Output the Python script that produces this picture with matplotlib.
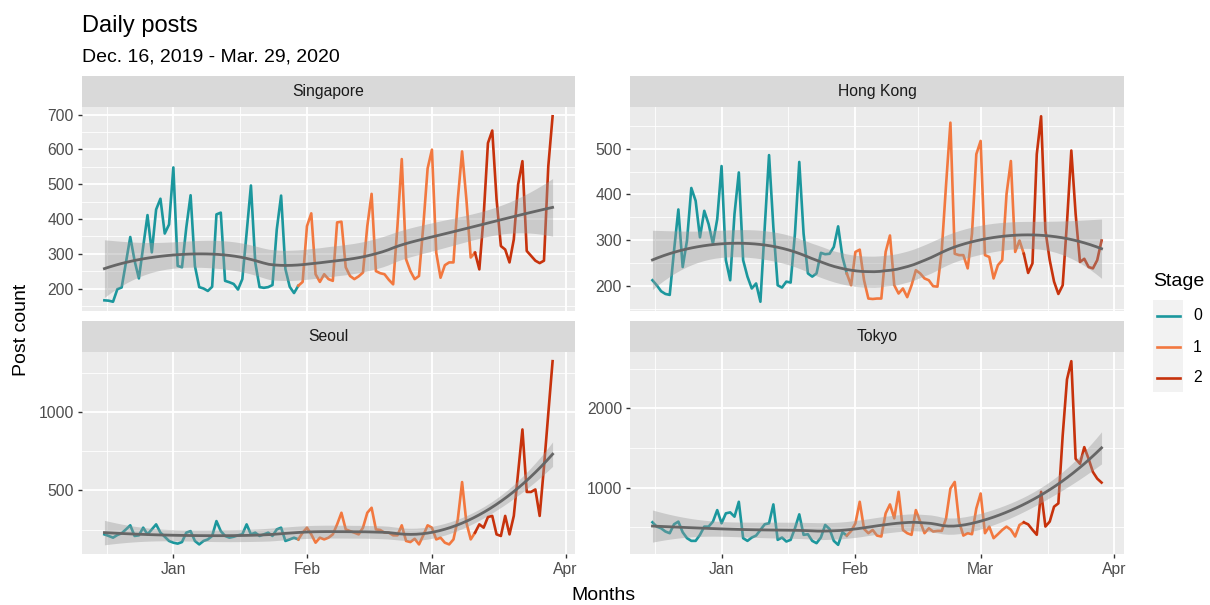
import numpy as np
import pandas as pd
import matplotlib
matplotlib.use("Agg")
import matplotlib.pyplot as plt
import matplotlib.dates as mdates
from matplotlib.patches import Rectangle

plt.rcParams["font.family"] = ["Liberation Sans", "DejaVu Sans"]

# ----------------------------
# Data (daily post counts)
# ----------------------------
dates = pd.date_range("2019-12-16", "2020-03-29", freq="D")
stage_starts = ["2020-01-31", "2020-03-12"]   # first day of stage 1, stage 2
stage_labels = ["0", "1", "2"]
stage_colors = ["#1B979D", "#F2783F", "#C7320C"]

singapore = [166, 165, 162, 198, 203, 275, 348, 280, 229, 320,
             411, 304, 427, 458, 358, 384, 548, 265, 261, 375,
             468, 265, 204, 200, 193, 205, 413, 418, 222, 218,
             213, 197, 227, 360, 496, 275, 204, 202, 204, 210,
             370, 467, 256, 205, 187, 208, 219, 379, 416, 241,
             219, 241, 227, 222, 390, 392, 261, 236, 227, 235,
             246, 379, 472, 250, 244, 241, 225, 212, 379, 572,
             284, 250, 227, 236, 380, 545, 599, 303, 231, 267,
             275, 275, 456, 594, 456, 289, 303, 255, 408, 618,
             654, 456, 322, 312, 275, 341, 499, 566, 308, 294,
             280, 273, 280, 551, 695]

hong_kong = [212, 201, 188, 182, 180, 277, 367, 241, 299, 414,
             386, 306, 364, 335, 292, 346, 462, 256, 212, 357,
             448, 256, 220, 194, 205, 165, 328, 486, 328, 201,
             196, 209, 207, 314, 471, 314, 227, 220, 227, 272,
             269, 270, 285, 330, 263, 227, 201, 274, 279, 212,
             172, 171, 172, 172, 274, 310, 201, 183, 194, 175,
             201, 234, 227, 216, 212, 199, 198, 278, 422, 557,
             270, 267, 267, 238, 314, 488, 517, 267, 263, 216,
             245, 256, 401, 473, 274, 299, 270, 228, 249, 488,
             571, 321, 256, 209, 182, 201, 339, 496, 357, 252,
             259, 241, 238, 256, 299]

seoul = [219, 209, 198, 215, 226, 251, 277, 209, 213, 262,
         219, 251, 283, 230, 204, 177, 166, 160, 170, 230,
         240, 177, 155, 177, 187, 209, 304, 240, 209, 198,
         204, 213, 219, 283, 219, 230, 209, 219, 230, 209,
         251, 262, 177, 187, 198, 187, 230, 262, 219, 166,
         198, 187, 198, 219, 283, 357, 251, 240, 230, 219,
         262, 357, 389, 251, 247, 230, 230, 213, 213, 277,
         177, 170, 191, 155, 213, 277, 262, 187, 198, 166,
         155, 187, 315, 553, 294, 187, 230, 283, 262, 330,
         337, 219, 209, 337, 219, 337, 613, 889, 490, 490,
         506, 337, 650, 990, 1325]

tokyo = [561, 506, 485, 444, 423, 536, 569, 435, 360, 326,
         326, 402, 506, 506, 569, 715, 548, 674, 686, 632,
         820, 360, 326, 368, 393, 464, 536, 548, 787, 339,
         368, 318, 339, 485, 661, 402, 410, 326, 297, 368,
         527, 477, 326, 276, 435, 393, 450, 548, 820, 477,
         423, 464, 393, 381, 674, 787, 611, 946, 464, 423,
         402, 715, 569, 423, 485, 444, 452, 452, 611, 987,
         1071, 569, 393, 423, 410, 736, 925, 423, 506, 360,
         410, 464, 506, 466, 381, 527, 560, 535, 466, 403,
         946, 507, 570, 758, 800, 1657, 2368, 2598, 1364, 1301,
         1511, 1364, 1197, 1113, 1063]

cities = ["Singapore", "Hong Kong", "Seoul", "Tokyo"]
series = [singapore, hong_kong, seoul, tokyo]
y_steps = [100, 100, 500, 1000]

# ----------------------------
# Helpers
# ----------------------------
W, H = 1210, 605
fig = plt.figure(figsize=(W / 100, H / 100), dpi=100)


def px_axes(x0, y0, x1, y1):
    return fig.add_axes([x0 / W, 1 - y1 / H, (x1 - x0) / W, (y1 - y0) / H])


def loess(x, y, span=0.75, n_out=80):
    """Local quadratic fit (tricube weights) + 95% band, like geom_smooth."""
    n = len(x)
    q = int(np.floor(n * span))

    def row(x0):
        d = np.abs(x - x0)
        h = np.sort(d)[q - 1]
        w = np.clip(1 - (d / h) ** 3, 0, None) ** 3
        X = np.vstack([np.ones(n), x - x0, (x - x0) ** 2]).T
        WX = X * w[:, None]
        return np.linalg.solve(X.T @ WX, WX.T)[0]

    L = np.array([row(v) for v in x])
    res = y - L @ y
    M = (np.eye(n) - L).T @ (np.eye(n) - L)
    d1 = np.trace(M)
    s = np.sqrt(res @ res / d1)
    xs = np.linspace(x.min(), x.max(), n_out)
    Lo = np.array([row(v) for v in xs])
    fit = Lo @ y
    se = s * np.sqrt((Lo ** 2).sum(axis=1))
    return xs, fit, fit - 1.98 * se, fit + 1.98 * se


xnum = mdates.date2num(dates)
days = np.arange(len(dates), dtype=float)
stage = np.zeros(len(dates), dtype=int)
for k, s in enumerate(stage_starts):
    stage[dates >= pd.Timestamp(s)] = k + 1

month_starts = pd.to_datetime(["2019-12-01", "2020-01-01", "2020-02-01",
                               "2020-03-01", "2020-04-01"])
mnum = mdates.date2num(month_starts)
x_major = mnum[1:]
x_minor = (mnum[:-1] + mnum[1:]) / 2

# panel boxes in pixels (x0, y0, x1, y1)
boxes = [(82, 107, 575, 311), (630, 107, 1124, 311),
         (82, 352, 575, 554), (630, 352, 1124, 554)]

for i, (city, vals, step, box) in enumerate(zip(cities, series, y_steps, boxes)):
    y = np.array(vals, dtype=float)
    ax = px_axes(*box)
    ax.set_facecolor("#EBEBEB")
    for sp in ax.spines.values():
        sp.set_visible(False)

    for k in range(3):
        idx = np.where(stage == k)[0]
        if k > 0:
            idx = np.r_[idx[0] - 1, idx]
        ax.plot(xnum[idx], y[idx], color=stage_colors[k], lw=1.9,
                solid_joinstyle="round", zorder=2)

    xs, fit, lo, hi = loess(days, y)
    xs_d = xnum[0] + xs
    ax.fill_between(xs_d, lo, hi, color="#999999", alpha=0.4, lw=0, zorder=3)
    ax.plot(xs_d, fit, color="#666666", lw=2.0, zorder=4)

    ymin = min(y.min(), lo.min())
    ymax = max(y.max(), hi.max())
    pad = 0.05 * (ymax - ymin)

    yt = np.arange(0, ymax + pad + step, step)
    yt = yt[(yt >= ymin - pad) & (yt <= ymax + pad)]
    ym = np.arange(step / 2, ymax + pad + step, step)
    ax.set_yticks(yt)
    ax.set_yticks(ym, minor=True)
    ax.set_yticklabels([f"{v:.0f}" for v in yt])
    ax.set_xticks(x_major)
    ax.set_xticks(x_minor, minor=True)
    ax.set_xlim(xnum[0] - 5.2, xnum[-1] + 5.2)
    ax.set_ylim(ymin - pad, ymax + pad)
    if i >= 2:
        ax.set_xticklabels(["Jan", "Feb", "Mar", "Apr"])
        ax.tick_params(axis="x", which="major", length=3.2, width=1.0,
                       color="#333333", labelsize=11.3, labelcolor="#4D4D4D", pad=2.5)
    else:
        ax.tick_params(axis="x", which="major", length=0, labelbottom=False)
    ax.tick_params(axis="y", which="major", length=3.2, width=1.0,
                   color="#333333", labelsize=11.3, labelcolor="#4D4D4D", pad=2.5)
    ax.tick_params(which="minor", length=0)
    ax.grid(which="major", color="white", lw=1.3)
    ax.grid(which="minor", color="white", lw=0.6)
    ax.set_axisbelow(True)

    # facet strip
    x0, y0, x1, y1 = box
    sax = px_axes(x0, y0 - 31, x1, y0)
    sax.set_facecolor("#D9D9D9")
    sax.set_xticks([])
    sax.set_yticks([])
    for sp in sax.spines.values():
        sp.set_visible(False)
    sax.text(0.5, 0.5, city, ha="center", va="center", fontsize=11.3,
             color="#1A1A1A", transform=sax.transAxes)

# ----------------------------
# Titles and axis titles
# ----------------------------
fig.text(82 / W, 1 - 32 / H, "Daily posts", fontsize=17, va="baseline", ha="left")
fig.text(82 / W, 1 - 62 / H, "Dec. 16, 2019 - Mar. 29, 2020", fontsize=14,
         va="baseline", ha="left")
fig.text(603 / W, 1 - 595 / H, "Months", fontsize=14, ha="center", va="center")
fig.text(22 / W, 1 - 330 / H, "Post count", fontsize=14, ha="center",
         va="center", rotation=90)

# ----------------------------
# Legend (drawn by hand, ggplot style)
# ----------------------------
lax = fig.add_axes([0, 0, 1, 1], facecolor="none")
lax.set_xlim(0, W)
lax.set_ylim(H, 0)
lax.axis("off")
lax.text(1153, 282, "Stage", fontsize=14, ha="left", va="center")
lax.add_patch(Rectangle((1153, 300), 30, 92, facecolor="#F2F2F2", edgecolor="none"))
for k, (lab, col) in enumerate(zip(stage_labels, stage_colors)):
    yy = 316 + k * 31
    lax.plot([1157, 1180], [yy, yy], color=col, lw=1.9)
    lax.text(1193, yy, lab, fontsize=11.3, ha="left", va="center")

plt.savefig("out.png", dpi=100)
